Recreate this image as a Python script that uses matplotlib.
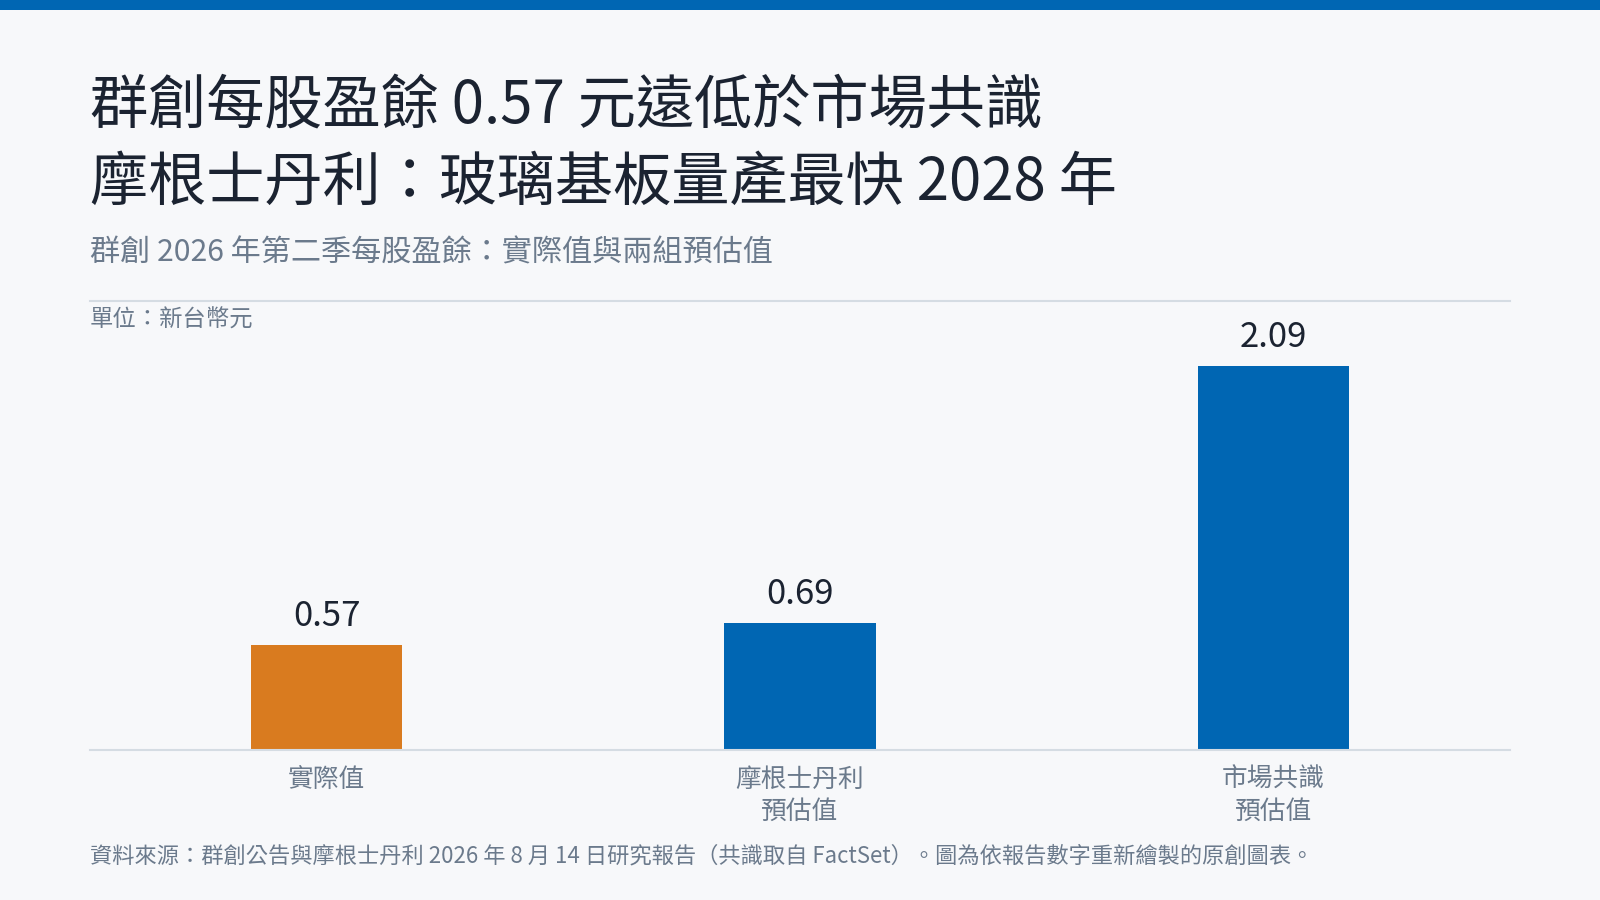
import matplotlib.pyplot as plt
from matplotlib.patches import Rectangle

plt.rcParams['font.family'] = ['Noto Sans CJK TC', 'DejaVu Sans']

# data
categories = ['實際值', '摩根士丹利\n預估值', '市場共識\n預估值']
eps_values = [0.57, 0.69, 2.09]
value_labels = ['0.57', '0.69', '2.09']
bar_colors = ['#d97b1f', '#0066b3', '#0066b3']

title_lines = ['群創每股盈餘 0.57 元遠低於市場共識',
               '摩根士丹利：玻璃基板量產最快 2028 年']
subtitle = '群創 2026 年第二季每股盈餘：實際值與兩組預估值'
unit_text = '單位：新台幣元'
source_text = ('資料來源：群創公告與摩根士丹利 2026 年 8 月 14 日研究報告（共識取自 FactSet）'
               '。圖為依報告數字重新繪製的原創圖表。')

BG = '#f7f8fa'
DARK = '#1b2331'
GRAY = '#6b7a8c'
LINE = '#d5dce3'

W, H = 1568.0, 882.0  # layout measured on this grid


def fx(x):
    return x / W


def fy(y):
    return 1 - y / H


fig = plt.figure(figsize=(16, 9), dpi=100, facecolor=BG)

# top bar
fig.patches.append(Rectangle((0, fy(10)), 1, 10 / H, transform=fig.transFigure,
                             facecolor='#0066b3', edgecolor='none'))

fig.text(fx(88), fy(104), title_lines[0], fontsize=41.9, color=DARK,
         fontweight='medium', va='center', ha='left')
fig.text(fx(88), fy(180), title_lines[1], fontsize=41.9, color=DARK,
         fontweight='medium', va='center', ha='left')
fig.text(fx(88), fy(248), subtitle, fontsize=21.7, color=GRAY, va='center', ha='left')

# separator
fig.add_artist(plt.Line2D([fx(88), fx(1480)], [fy(295), fy(295)],
                          transform=fig.transFigure, color=LINE, lw=1.5))
fig.text(fx(88), fy(314), unit_text, fontsize=16.8, color=GRAY, va='center', ha='left')

ax = fig.add_axes([fx(88), fy(735), fx(1480) - fx(88), (735 - 295) / H])
ax.set_facecolor('none')
x = range(len(categories))
bars = ax.bar(x, eps_values, width=0.32, color=bar_colors, zorder=2)
ax.bar_label(bars, labels=value_labels, padding=8, fontsize=25, color=DARK)

ax.set_xlim(-0.5, 2.5)
ax.set_ylim(0, 440 / 180)
ax.set_xticks(list(x))
ax.set_xticklabels(categories, fontsize=18.5, color=GRAY, linespacing=1.3)
ax.tick_params(axis='x', length=0, pad=12)
ax.set_yticks([])
for s in ['top', 'left', 'right']:
    ax.spines[s].set_visible(False)
ax.spines['bottom'].set_color(LINE)
ax.spines['bottom'].set_linewidth(1.5)

fig.text(fx(88), fy(839), source_text, fontsize=16, color=GRAY, va='center', ha='left')

fig.savefig('out.png', dpi=100, facecolor=BG)
